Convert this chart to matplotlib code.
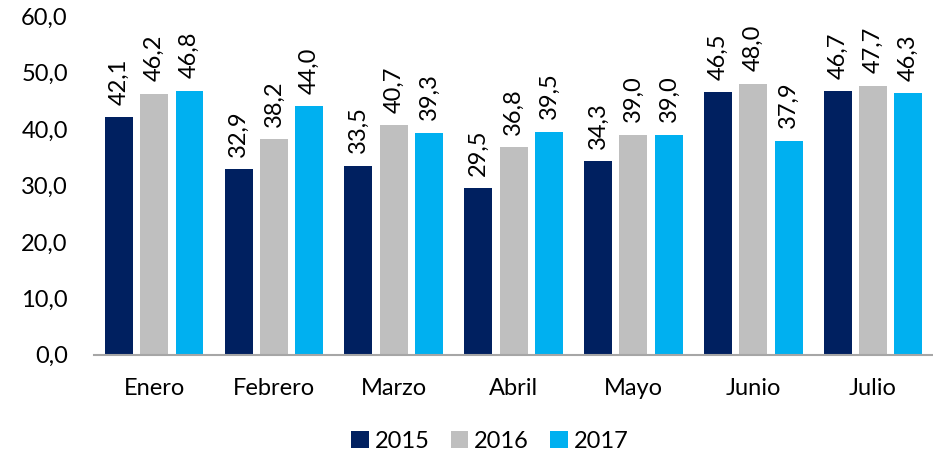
import numpy as np
import matplotlib.pyplot as plt

# data
months = ['Enero', 'Febrero', 'Marzo', 'Abril', 'Mayo', 'Junio', 'Julio']
years = ['2015', '2016', '2017']
v2015 = [42.1, 32.9, 33.5, 29.5, 34.3, 46.5, 46.7]
v2016 = [46.2, 38.2, 40.7, 36.8, 39.0, 48.0, 47.7]
v2017 = [46.8, 44.0, 39.3, 39.5, 39.0, 37.9, 46.3]
colors = ['#002060', '#bfbfbf', '#00b0f0']

plt.rcParams['font.family'] = ['Lato', 'DejaVu Sans']

fig = plt.figure(figsize=(9.33, 4.59), dpi=100)
ax = fig.add_axes([0.101, 0.227, 0.899, 0.738])

x = np.arange(len(months))
width = 0.233
offset = 0.295

for i, (vals, year) in enumerate(zip([v2015, v2016, v2017], years)):
    pos = x + (i - 1) * offset
    bars = ax.bar(pos, vals, width=width, color=colors[i], label=year)
    for b, v in zip(bars, vals):
        ax.annotate(f'{v:.1f}'.replace('.', ','),
                    (b.get_x() + b.get_width() / 2, v), xytext=(0, 9),
                    textcoords='offset points', rotation=90,
                    ha='center', va='bottom', fontsize=17)

ax.set_xlim(-0.5, len(months) - 0.5)
ax.set_ylim(0, 60)
ax.set_yticks(np.arange(0, 61, 10))
ax.set_yticklabels([f'{t:.1f}'.replace('.', ',') for t in np.arange(0, 61, 10)])
ax.set_xticks(x)
ax.set_xticklabels(months)
ax.tick_params(axis='both', length=0, labelsize=17)
ax.tick_params(axis='x', pad=17)
ax.tick_params(axis='y', pad=19)

for s in ['top', 'right', 'left']:
    ax.spines[s].set_visible(False)
ax.spines['bottom'].set_color('#a6a6a6')
ax.spines['bottom'].set_linewidth(1.5)

fig.legend(loc='lower center', ncol=3, frameon=False, fontsize=17,
           bbox_to_anchor=(0.525, -0.03), handlelength=0.75, handleheight=0.75,
           handletextpad=0.25, columnspacing=0.9)

fig.savefig('out.png', dpi=100)
